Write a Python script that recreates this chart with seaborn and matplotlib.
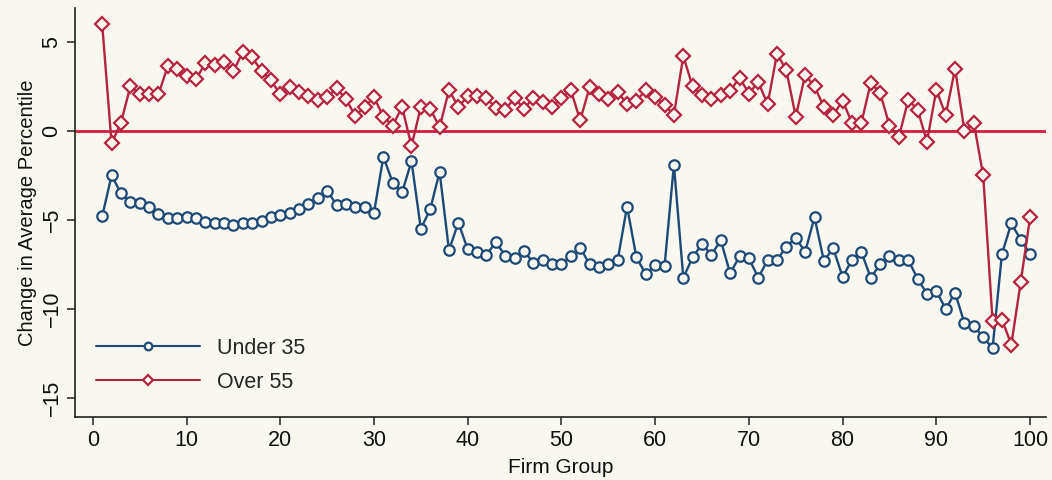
import numpy as np
import pandas as pd
import matplotlib
matplotlib.use("Agg")
import matplotlib.pyplot as plt
import seaborn as sns

groups = list(range(1, 101))

under_35 = [
    -4.8, -2.5, -3.5, -4.0, -4.05, -4.25, -4.65, -4.9, -4.9, -4.85,
    -4.9, -5.1, -5.2, -5.2, -5.3, -5.2, -5.2, -5.05, -4.85, -4.7,
    -4.6, -4.4, -4.1, -3.75, -3.35, -4.15, -4.1, -4.25, -4.25, -4.6,
    -1.45, -2.9, -3.45, -1.7, -5.5, -4.4, -2.3, -6.7, -5.15, -6.65,
    -6.8, -6.95, -6.25, -7.0, -7.15, -6.75, -7.4, -7.25, -7.5, -7.5,
    -7.05, -6.55, -7.5, -7.65, -7.45, -7.25, -4.25, -7.1, -8.05, -7.55,
    -7.6, -1.9, -8.25, -7.1, -6.35, -6.95, -6.15, -8.0, -7.05, -7.15,
    -8.25, -7.25, -7.25, -6.5, -6.0, -6.8, -4.85, -7.3, -6.6, -8.2,
    -7.25, -6.8, -8.25, -7.5, -7.05, -7.25, -7.25, -8.3, -9.15, -9.0,
    -10.0, -9.1, -10.8, -10.95, -11.6, -12.2, -6.9, -5.2, -6.1, -6.9,
]

over_55 = [
    6.0, -0.7, 0.45, 2.5, 2.1, 2.1, 2.05, 3.65, 3.5, 3.1,
    2.9, 3.8, 3.7, 3.85, 3.35, 4.45, 4.15, 3.35, 2.85, 2.05,
    2.45, 2.2, 1.95, 1.75, 1.9, 2.4, 1.8, 0.85, 1.35, 1.9,
    0.8, 0.3, 1.35, -0.85, 1.35, 1.25, 0.2, 2.3, 1.35, 1.95,
    1.95, 1.85, 1.3, 1.2, 1.85, 1.25, 1.85, 1.6, 1.35, 1.85,
    2.3, 0.6, 2.45, 2.05, 1.8, 2.2, 1.5, 1.7, 2.3, 1.9,
    1.45, 0.9, 4.2, 2.5, 2.0, 1.8, 2.0, 2.25, 3.0, 2.1,
    2.75, 1.5, 4.35, 3.4, 0.8, 3.15, 2.5, 1.35, 0.9, 1.7,
    0.45, 0.45, 2.7, 2.15, 0.3, -0.35, 1.75, 1.2, -0.6, 2.3,
    0.9, 3.5, 0.0, 0.45, -2.5, -10.7, -10.6, -12.0, -8.5, -4.85,
]

x_ticks = list(range(0, 101, 10))
y_ticks = [5, 0, -5, -10, -15]
series_names = ["Under 35", "Over 55"]

bg = "#f8f7f0"
blue = "#1f4a75"
red = "#b3243e"
zero_red = "#d41c3c"

sns.set_theme(style="ticks")
plt.rcParams["font.family"] = ["Liberation Sans", "DejaVu Sans"]

fig = plt.figure(figsize=(10.52, 4.8), dpi=100, facecolor=bg)
ax = fig.add_axes([0.0713, 0.131, 0.923, 0.852])
ax.set_facecolor(bg)

ax.axhline(0, color=zero_red, lw=2.0, zorder=1)

sns.lineplot(x=groups, y=under_35, ax=ax, color=blue, lw=1.7,
             marker="o", markersize=7.5, markerfacecolor=bg,
             markeredgecolor=blue, markeredgewidth=1.6,
             label=series_names[0], zorder=3)
sns.lineplot(x=groups, y=over_55, ax=ax, color=red, lw=1.7,
             marker="D", markersize=7.0, markerfacecolor=bg,
             markeredgecolor=red, markeredgewidth=1.6,
             label=series_names[1], zorder=3)

ax.set_xlim(-1.9, 101.7)
ax.set_ylim(-16.08, 6.9)
ax.set_xticks(x_ticks)
ax.set_yticks(y_ticks)
ax.set_yticklabels([str(v).replace("-", "\u2212") for v in y_ticks],
                   rotation=90, va="center")
ax.tick_params(axis="both", labelsize=15.5, length=6, width=1.1,
               color="#222222", labelcolor="#111111", pad=3)

for s in ["top", "right"]:
    ax.spines[s].set_visible(False)
for s in ["left", "bottom"]:
    ax.spines[s].set_color("#222222")
    ax.spines[s].set_linewidth(1.2)

ax.set_xlabel("Firm Group", fontsize=15, labelpad=5, color="#111111")
ax.set_ylabel("Change in Average Percentile", fontsize=14.5, labelpad=3,
              color="#111111")

leg = ax.legend(loc="lower left", bbox_to_anchor=(0.022, 0.06),
                frameon=False, fontsize=15.5, handlelength=4.8,
                handletextpad=0.8, labelspacing=0.6, borderpad=0,
                borderaxespad=0)
for h in leg.get_lines():
    h.set_markersize(5.5)
    h.set_linewidth(1.5)

fig.savefig("out.png", dpi=100, facecolor=bg)
